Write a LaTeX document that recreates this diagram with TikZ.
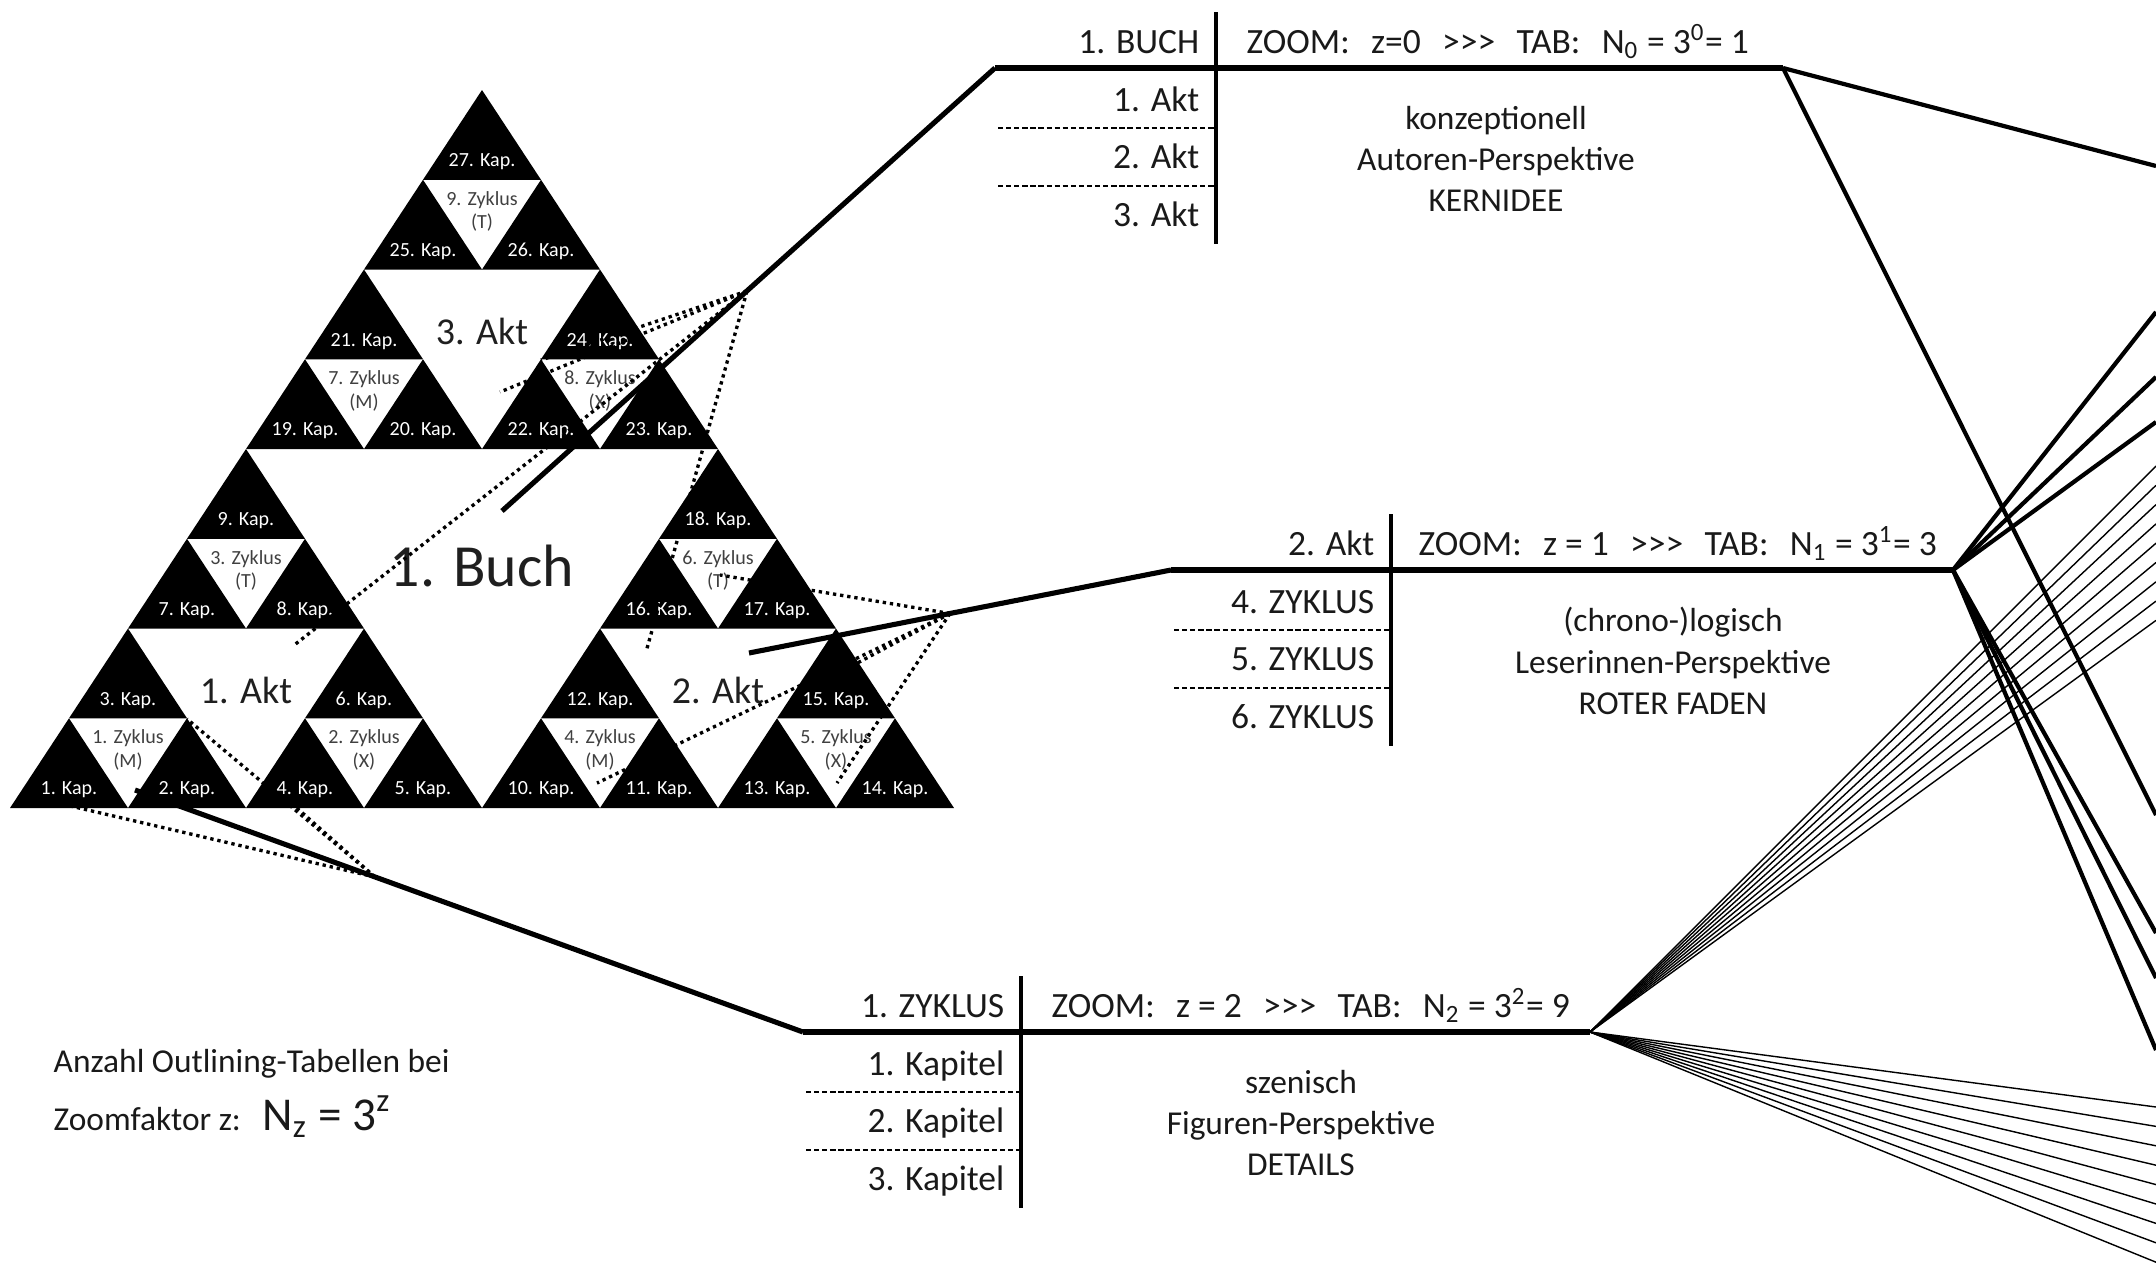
\documentclass[tikz,border=0pt]{standalone}
\usepackage{fontspec}
\setmainfont{Carlito}
\usetikzlibrary{positioning}

\newcommand{\pfeile}{>\kern0pt>\kern0pt>}
\newcommand{\tabgap}{\hspace{0.6em}}

\tikzset{
  kapitel/.style={fill=black},
  kaplabel/.style={text=white, font=\fontsize{5.7}{6.8}\selectfont, inner sep=0pt},
  zyklabel/.style={text=black!75, font=\fontsize{5.7}{6.6}\selectfont, align=center, inner sep=0pt},
  aktlabel/.style={text=black!88, font=\fontsize{10.8}{13}\selectfont, inner sep=0pt},
  buchlabel/.style={text=black!88, font=\fontsize{17}{20}\selectfont, inner sep=0pt},
  tabtext/.style={text=black!90, font=\fontsize{9.5}{11.7}\selectfont, inner sep=0pt},
  tabkopf/.style={text=black!90, font=\fontsize{10.1}{12}\selectfont, inner sep=0pt},
  zoomline/.style={line width=1.45pt},
  tabline/.style={line width=1.5pt},
  sepline/.style={line width=1.15pt},
  rowline/.style={line width=0.55pt, dash pattern=on 1.5pt off 0.8pt},
  cone/.style={line width=0.95pt, dash pattern=on 0.95pt off 1.1pt},
  fanthick/.style={line width=1.2pt},
  fanthin/.style={line width=0.4pt},
}

\begin{document}
\begin{tikzpicture}[x=0.01cm, y=-0.01cm]
    \useasboundingbox (0,0) rectangle (2156,1272);

    % Sierpinski-Dreieck: 3 Akte, 9 Zyklen, 27 Kapitel
    \foreach \a/\ax/\ay in {0/0/0, 1/472/0, 2/236/359}{
        \foreach \z/\zx/\zy/\zl in {0/0/0/M, 1/236/0/X, 2/118/179.5/T}{
            \foreach \k/\kx/\ky in {0/0/0, 1/118/0, 2/59/89.75}{
                \pgfmathtruncatemacro{\nr}{9*\a+3*\z+\k+1}
                \fill[kapitel] (10+\ax+\zx+\kx, 808-\ay-\zy-\ky) -- ++(118,0) -- ++(-59,-89.75) -- cycle;
                \node[kaplabel] (kap\nr) at (69+\ax+\zx+\kx, 790-\ay-\zy-\ky) {\nr. Kap.};
            }
            \pgfmathtruncatemacro{\zn}{3*\a+\z+1}
            \node[zyklabel] (zyk\zn) at (128+\ax+\zx, 750-\ay-\zy) {\zn. Zyklus\\(\zl)};
        }
        \pgfmathtruncatemacro{\an}{\a+1}
        \node[aktlabel] (akt\an) at (246+\ax, 690-\ay) {\an. Akt};
    }
    \node[buchlabel] (buch) at (482,566) {1. Buch};

    % Outlining-Tabelle z = 0
    \coordinate (tab0a) at (995,68);
    \coordinate (tab0b) at (1783,68);
    \coordinate (tab0o) at (1216,12);
    \coordinate (tab0u) at (1216,244);
    \draw[tabline] (tab0a) -- (tab0b);
    \draw[sepline] (tab0o) -- (tab0u);
    \draw[rowline] (998,128) -- (1216,128);
    \draw[rowline] (998,186) -- (1216,186);
    \node[tabkopf, anchor=base east] (tab0kopf) at (1200,53) {1. BUCH};
    \node[tabkopf, anchor=base west] (tab0zoom) at (1246,53) {ZOOM:\tabgap z=0\tabgap\pfeile\tabgap TAB:\tabgap N\textsubscript{0} = 3\textsuperscript{0}= 1};
    \node[tabkopf, anchor=base east] (tab0r1) at (1200,111) {1. Akt};
    \node[tabkopf, anchor=base east] (tab0r2) at (1200,168) {2. Akt};
    \node[tabkopf, anchor=base east] (tab0r3) at (1200,226) {3. Akt};
    \node[tabtext, align=center] (tab0mitte) at (1496,159) {konzeptionell\\Autoren-Perspektive\\KERNIDEE};

    % Outlining-Tabelle z = 1
    \coordinate (tab1a) at (1171,570);
    \coordinate (tab1b) at (1953,570);
    \coordinate (tab1o) at (1391,514);
    \coordinate (tab1u) at (1391,746);
    \draw[tabline] (tab1a) -- (tab1b);
    \draw[sepline] (tab1o) -- (tab1u);
    \draw[rowline] (1174,630) -- (1391,630);
    \draw[rowline] (1174,688) -- (1391,688);
    \node[tabkopf, anchor=base east] (tab1kopf) at (1375,555) {2. Akt};
    \node[tabkopf, anchor=base west] (tab1zoom) at (1418,555) {ZOOM:\tabgap z = 1\tabgap\pfeile\tabgap TAB:\tabgap N\textsubscript{1} = 3\textsuperscript{1}= 3};
    \node[tabkopf, anchor=base east] (tab1r1) at (1375,613) {4. ZYKLUS};
    \node[tabkopf, anchor=base east] (tab1r2) at (1375,670) {5. ZYKLUS};
    \node[tabkopf, anchor=base east] (tab1r3) at (1375,728) {6. ZYKLUS};
    \node[tabtext, align=center] (tab1mitte) at (1673,661) {(chrono-)logisch\\Leserinnen-Perspektive\\ROTER FADEN};

    % Outlining-Tabelle z = 2
    \coordinate (tab2a) at (803,1032);
    \coordinate (tab2b) at (1590,1032);
    \coordinate (tab2o) at (1021,976);
    \coordinate (tab2u) at (1021,1208);
    \draw[tabline] (tab2a) -- (tab2b);
    \draw[sepline] (tab2o) -- (tab2u);
    \draw[rowline] (806,1092) -- (1021,1092);
    \draw[rowline] (806,1150) -- (1021,1150);
    \node[tabkopf, anchor=base east] (tab2kopf) at (1005,1017) {1. ZYKLUS};
    \node[tabkopf, anchor=base west] (tab2zoom) at (1051,1017) {ZOOM:\tabgap z = 2\tabgap\pfeile\tabgap TAB:\tabgap N\textsubscript{2} = 3\textsuperscript{2}= 9};
    \node[tabkopf, anchor=base east] (tab2r1) at (1005,1075) {1. Kapitel};
    \node[tabkopf, anchor=base east] (tab2r2) at (1005,1132) {2. Kapitel};
    \node[tabkopf, anchor=base east] (tab2r3) at (1005,1190) {3. Kapitel};
    \node[tabtext, align=center] (tab2mitte) at (1301,1123) {szenisch\\Figuren-Perspektive\\DETAILS};

    % Zoom-Kegel (gepunktet) und Zoom-Linien
    \coordinate (zoom0) at (502,511);
    \coordinate (fok0) at (747,291);
    \coordinate (k0a) at (541,360);
    \coordinate (k0b) at (500,392);
    \coordinate (k0c) at (293,646);
    \coordinate (k0d) at (646,652);
    \foreach \p in {k0a,k0b,k0c,k0d} \draw[cone] (fok0) -- (\p);
    \draw[zoomline] (zoom0) -- (tab0a);

    \coordinate (zoom1) at (749,653);
    \coordinate (fok1) at (950,613.5);
    \coordinate (k1e) at (720,575);
    \coordinate (k1f) at (805,691);
    \coordinate (k1g) at (597,783);
    \coordinate (k1h) at (837,783);
    \foreach \p in {k1e,k1f,k1g,k1h} \draw[cone] (fok1) -- (\p);
    \draw[zoomline] (zoom1) -- (tab1a);

    \coordinate (zoom2) at (135,790);
    \coordinate (fok2) at (375,877);
    \coordinate (k2i) at (62,804);
    \coordinate (k2j) at (187,719);
    \coordinate (k2k) at (290,802);
    \foreach \p in {k2i,k2j,k2k} \draw[cone] (fok2) -- (\p);
    \draw[zoomline] (zoom2) -- (tab2a);

    % Verzweigungen zu den folgenden Tabellen
    \coordinate (rand0o) at (2156,166);
    \coordinate (rand0u) at (2156,815);
    \draw[fanthick] (tab0b) -- (rand0o);
    \draw[fanthick] (tab0b) -- (rand0u);
    \foreach \i/\y in {1/312, 2/377, 3/422}{
        \coordinate (rand1o\i) at (2156,\y);
        \draw[fanthick] (tab1b) -- (rand1o\i);
    }
    \foreach \i/\y in {1/933, 2/978, 3/1050}{
        \coordinate (rand1u\i) at (2156,\y);
        \draw[fanthick] (tab1b) -- (rand1u\i);
    }
    \foreach \i in {0,...,8}{
        \coordinate (rand2o\i) at (2156,{466+19.3*\i});
        \coordinate (rand2u\i) at (2156,{1107+19.4*\i});
        \draw[fanthin] (tab2b) -- (rand2o\i);
        \draw[fanthin] (tab2b) -- (rand2u\i);
    }

    % Legende
    \node[tabtext, anchor=base west] (anzahl) at (53,1072) {Anzahl Outlining-Tabellen bei};
    \node[tabtext, anchor=base west] (zoomfaktor) at (53,1130) {Zoomfaktor z:};
    \node[tabtext, font=\fontsize{13.4}{16}\selectfont, base right=0.2cm of zoomfaktor] (formel) {N\textsubscript{z} = 3\textsuperscript{z}};
\end{tikzpicture}
\end{document}
